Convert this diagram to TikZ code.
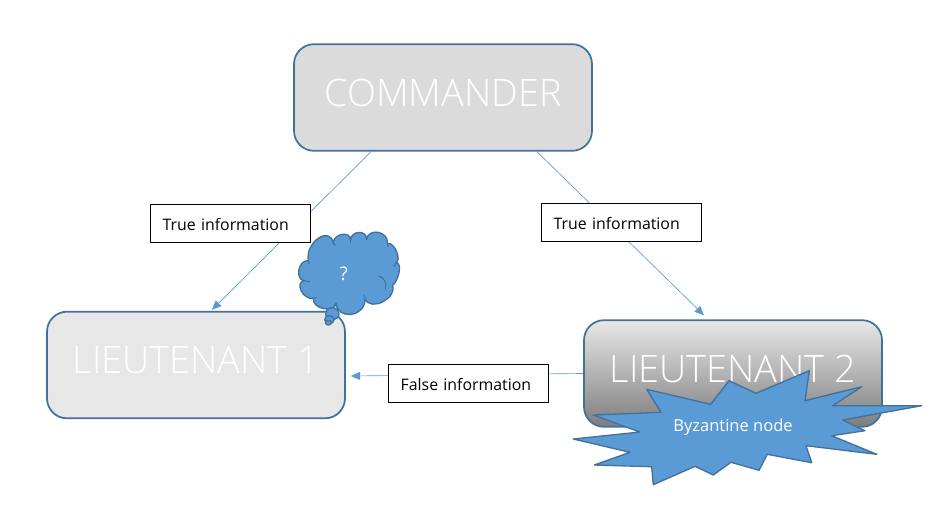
\documentclass[tikz,border=0pt]{standalone}
\usepackage{fontspec}
\setmainfont{Open Sans}
\newfontfamily\lightfont{Open Sans Light}
\usetikzlibrary{calc,arrows.meta}
\definecolor{edgeblue}{HTML}{41719C}
\definecolor{fillblue}{HTML}{5B9BD5}
\newcommand\bigtext[1]{\raisebox{7.5pt}{#1}}
\newcommand\smalltext[1]{\raisebox{-2.2pt}[8pt][2pt]{#1}}
\tikzset{
  bigbox/.style={draw=edgeblue,line width=1.3pt,rounded corners=15pt,minimum width=223.5pt,minimum height=80pt,inner sep=0pt,text=white,font=\lightfont\fontsize{28.4}{31}\selectfont},
  labelbox/.style={draw=black,line width=0.7pt,fill=white,minimum height=29pt,inner xsep=9.5pt,inner ysep=0pt,text width=101pt,align=left,font=\fontsize{11.9}{13}\selectfont},
  link/.style={draw=fillblue,line width=0.5pt,-{Triangle[length=7pt,width=6pt,fill=fillblue]}},
  blob/.style={draw=edgeblue,line width=1pt,fill=fillblue,line join=round},
  inblob/.style={text=white,inner sep=0pt,font=\fontsize{12.4}{14}\selectfont},
  cloudline/.style={edgeblue,line width=0.8pt}
}
\begin{document}
\begin{tikzpicture}[x=0.75pt,y=-0.75pt]
\useasboundingbox (0,0) rectangle (941,514);
\node[bigbox,fill={rgb,255:red,219;green,219;blue,219}] (cmd) at (443,97.5) {\bigtext{COMMANDER}};
\node[bigbox,fill={rgb,255:red,231;green,231;blue,231}] (lone) at (196,365) {\bigtext{LIEUTENANT 1}};
\node[bigbox,top color={rgb,255:red,232;green,232;blue,232},bottom color={rgb,255:red,125;green,125;blue,125}] (ltwo) at (733,373.5) {\bigtext{LIEUTENANT 2}};
\coordinate (endone) at ($(lone.north)+(16,-1)$);
\coordinate (endtwo) at ($(ltwo.north)+(-29,-4)$);
\coordinate (endthree) at ($(lone.east)+(5,11)$);
\draw[link] ($(cmd.south)+(-72,0)$) -- (endone);
\draw[link] ($(cmd.south)+(94,0)$) -- (endtwo);
\draw[link] (ltwo.west) -- (endthree);
\node[labelbox] (tone) at (230,223.5) {\smalltext{True information}};
\node[labelbox] (ttwo) at (621,222.5) {\smalltext{True information}};
\node[labelbox] (fone) at (468,383.5) {\smalltext{False information}};
% thought cloud
\begin{scope}[shift={(280,220)},x=0.25pt,y=-0.25pt]
\filldraw[blob] (85,122) .. controls (75,67) and (150,15) .. (160,70)
 .. controls (159,41) and (211,31) .. (212,60)
 .. controls (213,31) and (261,29) .. (260,58)
 .. controls (265,22) and (327,34) .. (322,70)
 .. controls (345,65) and (365,123) .. (348,128)
 .. controls (372,129) and (350,191) .. (338,195)
 .. controls (352,234) and (274,276) .. (255,237)
 .. controls (255,293) and (173,300) .. (168,250)
 .. controls (163,281) and (95,266) .. (100,235)
 .. controls (68,240) and (44,187) .. (72,182)
 .. controls (45,179) and (54,119) .. (85,122) -- cycle;
\draw[cloudline] (296,168) .. controls (312,172) and (322,190) .. (316,208);
\draw[cloudline] (72,182) -- (90,185);
\draw[cloudline] (100,235) -- (110,232);
\draw[cloudline] (168,250) -- (172,264);
\draw[cloudline] (255,237) -- (251,224);
\draw[cloudline] (348,128) -- (342,140);
\draw[cloudline] (322,70) -- (325,80);
\draw[cloudline] (212,60) -- (212,70);
\draw[cloudline] (160,70) -- (166,76);
\draw[cloudline] (85,122) -- (88,132);
\filldraw[blob] (157,281) ellipse (20 and 18);
\filldraw[blob] (148,299) ellipse (14 and 12);
\filldraw[blob] (145,308) ellipse (9 and 7);
\end{scope}
\node[inblob,font=\fontsize{14}{16}\selectfont] (qmark) at (344,274) {?};
% burst
\filldraw[blob] (809.3,370.7) -- (805,400.7) -- (861.7,386.7) -- (832.7,405.7) -- (921.7,405.7) -- (842.7,420) -- (865,430.7) -- (831.7,435.7) -- (876.7,454.3) -- (806,445.7) -- (811.7,462.7) -- (767.3,454.3) -- (759,470.3) -- (731,462.3) -- (713.3,475) -- (695,466.3) -- (653.3,484.7) -- (651.7,466.7) -- (594.3,465) -- (630,452.3) -- (573.3,439) -- (640,432) -- (593.3,415) -- (661,412.3) -- (646.7,389.3) -- (710.7,404.3) -- (729,380.7) -- (756,393.3) -- cycle;
\node[inblob] (byz) at (733,427) {Byzantine node};
\end{tikzpicture}
\end{document}
